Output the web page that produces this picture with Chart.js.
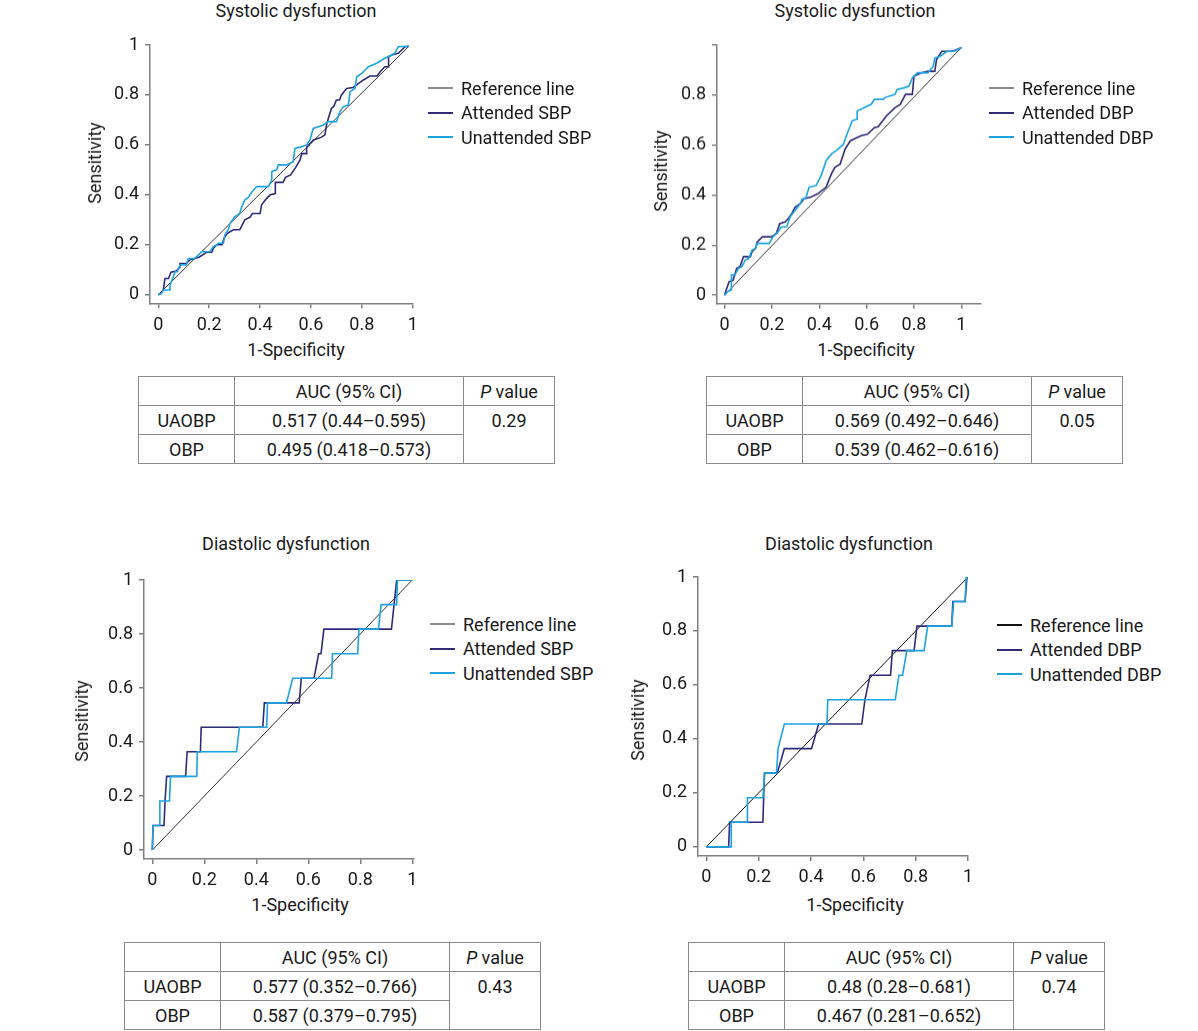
<!DOCTYPE html>
<html>
<head>
<meta charset="utf-8">
<title>ROC curves - UAOBP vs OBP</title>
<script src="https://cdn.jsdelivr.net/npm/chart.js@4.4.1/dist/chart.umd.min.js"></script>
<style>
  body { margin: 0; background: #fff; font-family: Roboto, "Liberation Sans", sans-serif; color: #1a1a1a; }
  #page { position: relative; width: 1198px; height: 1031px; overflow: hidden; }
  .box { position: absolute; }
  .lbl { position: absolute; font-size: 18px; line-height: 1; white-space: nowrap; transform: translate(-50%, -50%); }
  .lbl.rot { transform: translate(-50%, -50%) rotate(-90deg); }
  .legend { position: absolute; font-size: 18px; }
  .legend .row { position: absolute; left: 0; height: 20px; display: flex; align-items: center; white-space: nowrap; }
  .legend .swatch { display: inline-block; width: 25px; height: 0; border-top: 2px solid; margin-right: 8px; }
  table.auc { position: absolute; border-collapse: collapse; font-size: 18px; table-layout: fixed; }
  table.auc td { border: 1px solid #8a8a8a; text-align: center; padding: 0; height: 28px; }
  table.auc td.pv { vertical-align: top; padding-top: 4px; }
</style>
</head>
<body>
<div id="page"></div>
<script>
// tick values / labels
const tickVals = [0, 0.2, 0.4, 0.6, 0.8, 1];
const tickLabels = ['0', '0.2', '0.4', '0.6', '0.8', '1'];
const tickLabelsNoTop = ['0', '0.2', '0.4', '0.6', '0.8', ''];

// --- top-left: systolic dysfunction, SBP ---
const refSysSbpX = [0, 0.985];
const refSysSbpY = [0, 0.995];
const attSbpSysX = [0, 0.01, 0.02, 0.026, 0.04, 0.05, 0.07, 0.085, 0.085, 0.11, 0.125, 0.16, 0.19, 0.21, 0.216, 0.23, 0.25, 0.26, 0.27, 0.295, 0.32, 0.34, 0.36, 0.37, 0.4, 0.406, 0.425, 0.44, 0.46, 0.46, 0.49, 0.5, 0.52, 0.54, 0.557, 0.564, 0.583, 0.583, 0.596, 0.61, 0.64, 0.655, 0.662, 0.68, 0.69, 0.7, 0.712, 0.72, 0.74, 0.765, 0.78, 0.806, 0.832, 0.86, 0.872, 0.89, 0.905, 0.905, 0.917, 0.943, 0.97, 0.985];
const attSbpSysY = [0, 0.005, 0.02, 0.065, 0.065, 0.09, 0.095, 0.11, 0.125, 0.125, 0.14, 0.15, 0.17, 0.17, 0.185, 0.2, 0.2, 0.23, 0.245, 0.26, 0.26, 0.3, 0.31, 0.325, 0.325, 0.36, 0.385, 0.4, 0.405, 0.45, 0.45, 0.47, 0.48, 0.51, 0.54, 0.565, 0.565, 0.59, 0.605, 0.62, 0.63, 0.64, 0.685, 0.745, 0.755, 0.78, 0.78, 0.8, 0.826, 0.83, 0.84, 0.86, 0.876, 0.876, 0.893, 0.913, 0.913, 0.953, 0.96, 0.967, 0.993, 0.995];
const unaSbpSysX = [0, 0.013, 0.02, 0.046, 0.046, 0.059, 0.066, 0.075, 0.085, 0.11, 0.118, 0.144, 0.157, 0.17, 0.203, 0.216, 0.23, 0.236, 0.256, 0.262, 0.275, 0.282, 0.3, 0.32, 0.328, 0.34, 0.354, 0.367, 0.387, 0.433, 0.446, 0.446, 0.465, 0.472, 0.505, 0.53, 0.537, 0.564, 0.583, 0.596, 0.609, 0.629, 0.649, 0.668, 0.7, 0.714, 0.727, 0.747, 0.754, 0.773, 0.78, 0.8, 0.813, 0.826, 0.858, 0.89, 0.917, 0.93, 0.943, 0.985];
const unaSbpSysY = [0, 0.005, 0.019, 0.019, 0.039, 0.072, 0.092, 0.092, 0.119, 0.119, 0.145, 0.145, 0.159, 0.172, 0.172, 0.192, 0.2, 0.206, 0.206, 0.24, 0.26, 0.286, 0.312, 0.326, 0.352, 0.38, 0.39, 0.41, 0.433, 0.433, 0.46, 0.493, 0.5, 0.52, 0.52, 0.533, 0.586, 0.593, 0.6, 0.62, 0.666, 0.673, 0.68, 0.693, 0.693, 0.733, 0.753, 0.76, 0.813, 0.826, 0.873, 0.886, 0.9, 0.913, 0.927, 0.947, 0.96, 0.967, 0.993, 0.995];

// --- top-right: systolic dysfunction, DBP ---
const refSysDbpX = [0, 1];
const refSysDbpY = [0, 0.99];
const attDbpSysX = [0, 0.007, 0.019, 0.036, 0.051, 0.065, 0.08, 0.109, 0.116, 0.131, 0.138, 0.16, 0.197, 0.218, 0.233, 0.255, 0.269, 0.284, 0.298, 0.32, 0.335, 0.364, 0.393, 0.429, 0.451, 0.466, 0.488, 0.509, 0.531, 0.575, 0.604, 0.633, 0.648, 0.662, 0.684, 0.72, 0.742, 0.764, 0.793, 0.8, 0.83, 0.859, 0.888, 0.895, 0.917, 0.939, 0.968, 1];
const attDbpSysY = [0, 0.021, 0.054, 0.06, 0.107, 0.114, 0.154, 0.154, 0.174, 0.187, 0.213, 0.233, 0.233, 0.246, 0.286, 0.293, 0.306, 0.326, 0.352, 0.366, 0.385, 0.392, 0.405, 0.432, 0.485, 0.511, 0.524, 0.584, 0.617, 0.637, 0.644, 0.67, 0.673, 0.69, 0.717, 0.75, 0.763, 0.803, 0.803, 0.876, 0.889, 0.895, 0.895, 0.942, 0.975, 0.975, 0.977, 0.99];
const unaDbpSysX = [0, 0.015, 0.029, 0.029, 0.044, 0.058, 0.073, 0.087, 0.102, 0.116, 0.131, 0.138, 0.189, 0.204, 0.226, 0.24, 0.262, 0.277, 0.298, 0.32, 0.328, 0.342, 0.357, 0.386, 0.408, 0.429, 0.451, 0.48, 0.502, 0.517, 0.539, 0.56, 0.56, 0.59, 0.619, 0.633, 0.67, 0.677, 0.72, 0.728, 0.757, 0.779, 0.793, 0.815, 0.859, 0.881, 0.888, 0.91, 0.939, 0.975, 1];
const unaDbpSysY = [0, 0.015, 0.021, 0.081, 0.081, 0.107, 0.114, 0.14, 0.147, 0.18, 0.187, 0.207, 0.207, 0.233, 0.253, 0.273, 0.273, 0.313, 0.339, 0.366, 0.385, 0.385, 0.432, 0.438, 0.478, 0.538, 0.564, 0.584, 0.604, 0.644, 0.697, 0.703, 0.736, 0.75, 0.763, 0.783, 0.783, 0.79, 0.803, 0.822, 0.829, 0.836, 0.869, 0.889, 0.889, 0.915, 0.948, 0.955, 0.975, 0.977, 0.99];

// --- bottom-left: diastolic dysfunction, SBP ---
const refDiaSbpX = [0, 1];
const refDiaSbpY = [0, 1];
const attSbpDiaX = [0, 0.003, 0.045, 0.049, 0.055, 0.128, 0.134, 0.185, 0.188, 0.425, 0.431, 0.565, 0.573, 0.622, 0.64, 0.649, 0.66, 0.92, 0.93, 0.94, 1];
const attSbpDiaY = [0, 0.091, 0.091, 0.182, 0.273, 0.273, 0.364, 0.364, 0.455, 0.455, 0.545, 0.545, 0.636, 0.636, 0.727, 0.727, 0.818, 0.818, 0.909, 1, 1];
const unaSbpDiaX = [0, 0.003, 0.027, 0.029, 0.066, 0.07, 0.171, 0.173, 0.324, 0.335, 0.44, 0.443, 0.516, 0.54, 0.69, 0.693, 0.79, 0.795, 0.87, 0.88, 0.94, 0.943, 1];
const unaSbpDiaY = [0, 0.091, 0.091, 0.182, 0.182, 0.273, 0.273, 0.364, 0.364, 0.455, 0.455, 0.545, 0.545, 0.636, 0.636, 0.727, 0.727, 0.818, 0.818, 0.909, 0.909, 1, 1];

// --- bottom-right: diastolic dysfunction, DBP ---
const refDiaDbpX = [0, 1];
const refDiaDbpY = [0, 1];
const attDbpDiaX = [0, 0.085, 0.089, 0.216, 0.222, 0.271, 0.298, 0.402, 0.429, 0.594, 0.606, 0.626, 0.704, 0.711, 0.794, 0.805, 0.938, 0.942, 0.989, 0.996, 1];
const attDbpDiaY = [0, 0, 0.091, 0.091, 0.273, 0.273, 0.364, 0.364, 0.455, 0.455, 0.545, 0.636, 0.636, 0.727, 0.727, 0.818, 0.818, 0.909, 0.909, 1, 1];
const unaDbpDiaX = [0, 0.095, 0.095, 0.157, 0.157, 0.216, 0.223, 0.268, 0.274, 0.298, 0.461, 0.464, 0.722, 0.736, 0.75, 0.766, 0.832, 0.846, 0.938, 0.945, 0.989, 0.993, 1];
const unaDbpDiaY = [0, 0, 0.091, 0.091, 0.182, 0.182, 0.273, 0.273, 0.364, 0.455, 0.455, 0.545, 0.545, 0.636, 0.636, 0.727, 0.727, 0.818, 0.818, 0.909, 0.909, 1, 1];

// tables
const tableHead = ['', 'AUC (95% CI)', 'P value'];
const rowNames = ['UAOBP', 'OBP'];
const aucSysSbp = ['0.517 (0.44\u20130.595)', '0.495 (0.418\u20130.573)'];
const aucSysDbp = ['0.569 (0.492\u20130.646)', '0.539 (0.462\u20130.616)'];
const aucDiaSbp = ['0.577 (0.352\u20130.766)', '0.587 (0.379\u20130.795)'];
const aucDiaDbp = ['0.48 (0.28\u20130.681)', '0.467 (0.281\u20130.652)'];
const pSys = ['0.29', '0.05'];
const pDia = ['0.43', '0.74'];

const DARK = '#2e2b78';
const LIGHT = '#1ca3e3';
const REF = '#333333';
const AXIS = '#808080';

const page = document.getElementById('page');

function series(xs, ys) { return xs.map((x, i) => ({ x: x, y: ys[i] })); }

function addLabel(text, cx, cy, rotate) {
    const d = document.createElement('div');
    d.className = 'lbl' + (rotate ? ' rot' : '');
    d.style.left = cx + 'px';
    d.style.top = cy + 'px';
    d.textContent = text;
    page.appendChild(d);
}

// area = chart area in page pixels, xr/yr = axis ranges
function makeRoc(area, xr, yr, yTickLabels, datasets) {
    const padL = 54, padT = 20, padR = 16, padB = 34;
    const wrap = document.createElement('div');
    wrap.className = 'box';
    wrap.style.left = (area.l - padL) + 'px';
    wrap.style.top = (area.t - padT) + 'px';
    wrap.style.width = (area.r - area.l + padL + padR) + 'px';
    wrap.style.height = (area.b - area.t + padT + padB) + 'px';
    const cv = document.createElement('canvas');
    wrap.appendChild(cv);
    page.appendChild(wrap);

    const tickFont = { family: 'Roboto', size: 18 };
    const axis = (min, max, labels, isX) => ({
        type: 'linear', min: min, max: max,
        afterFit: s => { if (isX) s.height = 30; else s.width = padL; },
        afterBuildTicks: s => { s.ticks = tickVals.map(v => ({ value: v })); },
        ticks: { callback: (v, i) => labels[i], autoSkip: false, maxRotation: 0, padding: isX ? 6 : 6, color: '#1a1a1a', font: tickFont },
        grid: { drawOnChartArea: false, drawTicks: true, tickLength: 5, color: AXIS, lineWidth: 1.5 },
        border: { display: true, color: AXIS, width: 1.5 }
    });

    return new Chart(cv.getContext('2d'), {
        type: 'line',
        data: { datasets: datasets },
        options: {
            responsive: true, maintainAspectRatio: false, animation: false,
            layout: { padding: { left: 0, top: padT, right: padR, bottom: 4 } },
            elements: { point: { radius: 0 }, line: { tension: 0 } },
            plugins: { legend: { display: false }, tooltip: { enabled: false } },
            scales: {
                x: axis(xr[0], xr[1], tickLabels, true),
                y: axis(yr[0], yr[1], yTickLabels, false)
            }
        }
    });
}

function ds(label, xs, ys, color, width, order) {
    return { label: label, data: series(xs, ys), borderColor: color, backgroundColor: color, borderWidth: width, fill: false, order: order };
}

// html legend from the chart datasets
function addLegend(chart, left, top, refColor) {
    const lg = document.createElement('div');
    lg.className = 'legend';
    lg.style.left = left + 'px';
    lg.style.top = top + 'px';
    chart.data.datasets.forEach((d, i) => {
        const row = document.createElement('div');
        row.className = 'row';
        row.style.top = (i * 24.5) + 'px';
        const sw = document.createElement('span');
        sw.className = 'swatch';
        sw.style.borderColor = i === 0 ? refColor : d.borderColor;
        row.appendChild(sw);
        row.appendChild(document.createTextNode(d.label));
        lg.appendChild(row);
    });
    page.appendChild(lg);
}

function addTable(left, top, auc, p) {
    const t = document.createElement('table');
    t.className = 'auc';
    t.style.left = left + 'px';
    t.style.top = top + 'px';
    t.innerHTML =
        '<colgroup><col style="width:96px"><col style="width:229px"><col style="width:91px"></colgroup>' +
        '<tr><td>' + tableHead[0] + '</td><td>' + tableHead[1] + '</td><td><i>P</i>' + tableHead[2].slice(1) + '</td></tr>' +
        '<tr><td>' + rowNames[0] + '</td><td>' + auc[0] + '</td><td class="pv" rowspan="2">' + p + '</td></tr>' +
        '<tr><td>' + rowNames[1] + '</td><td>' + auc[1] + '</td></tr>';
    page.appendChild(t);
}

// top-left
const c1 = makeRoc({ l: 150, t: 45, r: 413, b: 303.3 }, [-0.0326, 1.001], [-0.0344, 1], tickLabels, [
    ds('Reference line', refSysSbpX, refSysSbpY, REF, 1, 3),
    ds('Attended SBP', attSbpSysX, attSbpSysY, DARK, 1.6, 2),
    ds('Unattended SBP', unaSbpSysX, unaSbpSysY, LIGHT, 1.6, 1)
]);
addLegend(c1, 428, 78, '#8c8c8c');
addLabel('Systolic dysfunction', 296, 11);
addLabel('Sensitivity', 95, 163, true);
addLabel('1-Specificity', 296, 350);
addTable(138, 376, aucSysSbp, pSys[0]);

// top-right
const c2 = makeRoc({ l: 716.7, t: 45, r: 980, b: 302.7 }, [-0.032, 1.08], [-0.034, 1], tickLabelsNoTop, [
    ds('Reference line', refSysDbpX, refSysDbpY, REF, 1, 3),
    ds('Attended DBP', attDbpSysX, attDbpSysY, DARK, 1.6, 2),
    ds('Unattended DBP', unaDbpSysX, unaDbpSysY, LIGHT, 1.6, 1)
]);
addLegend(c2, 989, 78, '#8c8c8c');
addLabel('Systolic dysfunction', 855, 11);
addLabel('Sensitivity', 661, 171, true);
addLabel('1-Specificity', 866, 350);
addTable(706, 376, aucSysDbp, pSys[1]);

// bottom-left
const c3 = makeRoc({ l: 144, t: 580, r: 413.3, b: 859 }, [-0.032, 1.004], [-0.033, 1], tickLabels, [
    ds('Reference line', refDiaSbpX, refDiaSbpY, REF, 1, 3),
    ds('Attended SBP', attSbpDiaX, attSbpDiaY, DARK, 1.6, 2),
    ds('Unattended SBP', unaSbpDiaX, unaSbpDiaY, LIGHT, 1.6, 1)
]);
addLegend(c3, 430, 614, '#8c8c8c');
addLabel('Diastolic dysfunction', 286, 544);
addLabel('Sensitivity', 82, 721, true);
addLabel('1-Specificity', 300, 905);
addTable(124, 942, aucDiaSbp, pDia[0]);

// bottom-right
const c4 = makeRoc({ l: 698.3, t: 577, r: 968.3, b: 856 }, [-0.032, 1.0], [-0.034, 1], tickLabels, [
    ds('Reference line', refDiaDbpX, refDiaDbpY, '#111111', 1, 3),
    ds('Attended DBP', attDbpDiaX, attDbpDiaY, DARK, 1.6, 2),
    ds('Unattended DBP', unaDbpDiaX, unaDbpDiaY, LIGHT, 1.6, 1)
]);
addLegend(c4, 997, 615, '#111111');
addLabel('Diastolic dysfunction', 849, 544);
addLabel('Sensitivity', 638, 720, true);
addLabel('1-Specificity', 855, 905);
addTable(688, 942, aucDiaDbp, pDia[1]);
</script>
</body>
</html>
